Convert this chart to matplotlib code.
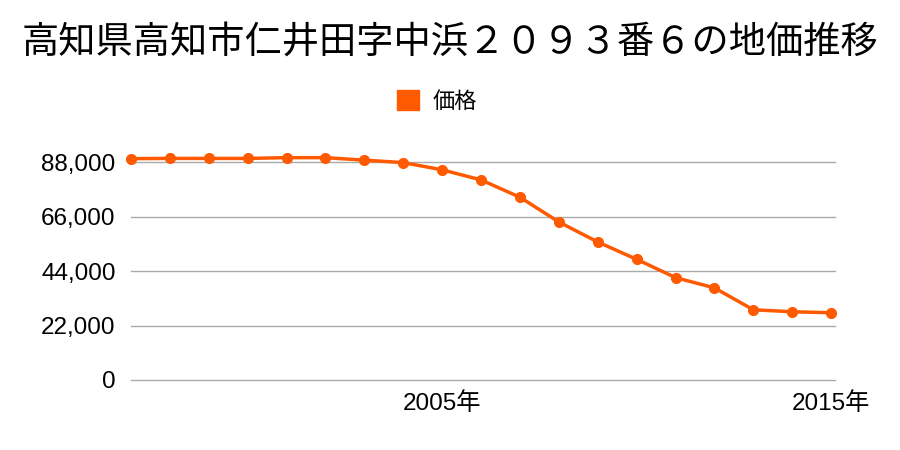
import matplotlib
matplotlib.use('Agg')
import matplotlib.pyplot as plt
from matplotlib.patches import Patch

plt.rcParams['font.family'] = ['Noto Sans CJK JP', 'DejaVu Sans']

years = list(range(1997, 2016))
prices = [89500, 89600, 89600, 89600, 89900, 89900, 88900, 87900, 85000, 80900,
          73900, 63900, 55800, 48800, 41400, 37250, 28400, 27600, 27200]
yticks = [0, 22000, 44000, 66000, 88000]
xticks = [2005, 2015]
xlabels = ['2005年', '2015年']
color = '#ff5a00'
tick_font = ['Liberation Sans', 'Noto Sans CJK JP']

fig = plt.figure(figsize=(9, 4.5), dpi=100)
ax = fig.add_axes([131 / 900, 70 / 450, 704 / 900, 230 / 450])

ax.plot(years, prices, color=color, lw=2.5, marker='o', ms=7, clip_on=False, zorder=3)
ax.set_xlim(1997, 2015.1)
ax.set_ylim(0, 93000)
ax.set_yticks(yticks)
ax.set_yticklabels([f'{v:,}' for v in yticks], family=tick_font, fontsize=17.5)
ax.set_xticks(xticks)
ax.set_xticklabels(xlabels, family=tick_font, fontsize=17.5)
ax.grid(axis='y', color='#aaaaaa', lw=1)
for gl in ax.get_ygridlines():
    gl.set_clip_on(False)
ax.set_axisbelow(True)
for s in ax.spines.values():
    s.set_visible(False)
ax.tick_params(length=0, pad=11)
ax.tick_params(axis='x', pad=9)

fig.text(0.5, 1 - 42 / 450, '高知県高知市仁井田字中浜２０９３番６の地価推移',
         ha='center', va='center', fontsize=26.8)
fig.legend(handles=[Patch(color=color, label='価格')], loc='center',
           bbox_to_anchor=(437 / 900, 1 - 101 / 450), frameon=False, fontsize=16,
           handlelength=1.0, handleheight=1.0, handletextpad=0.6)

fig.savefig('out.png', dpi=100)
